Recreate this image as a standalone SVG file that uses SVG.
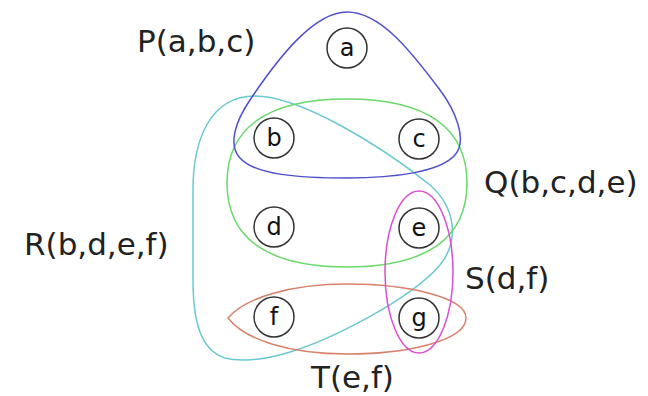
<svg xmlns="http://www.w3.org/2000/svg" width="648" height="396" viewBox="0 0 648 396">
<style>
.edge{fill:none;stroke-width:1.5}
.node circle{fill:none;stroke:#333;stroke-width:1.5}
.node text{font-family:"DejaVu Sans",sans-serif;font-size:24px;fill:#111;text-anchor:middle}
.lbl{font-family:"DejaVu Sans",sans-serif;font-size:31px;fill:#222}
</style>
<rect width="648" height="396" fill="#fff"/>
<g id="connectors">
<path id="R" class="edge" stroke="#6cc8d0" d="M255,96 C300,96 380,145 430,185 C455,207 460,240 440,265 C410,300 330,340 290,352 C265,360 240,362 225,358 C200,350 193,320 193,280 L193,190 C193,140 210,96 255,96 Z"/>
<path id="Q" class="edge" stroke="#6ad86a" d="M347,99 C427,99 467,128 467,183 C467,238 427,267 347,267 C267,267 227,238 227,183 C227,128 267,99 347,99 Z"/>
<path id="P" class="edge" stroke="#5050cc" d="M347,12 C315,12 280,55 250,100 C235,122 228,145 240,158 C255,175 300,178 347,178 C395,178 440,172 455,155 C468,140 455,110 440,90 C410,50 380,12 347,12 Z"/>
<path id="T" class="edge" stroke="#d8806a" d="M228,318 C245,298 290,284 347,284 C410,284 466,298 466,318 C466,340 410,354 347,354 C290,354 245,340 228,318 Z"/>
<ellipse id="S" class="edge" stroke="#d850d0" cx="419" cy="272" rx="34" ry="81"/>
</g>
<g id="labels">
<text class="lbl" x="137" y="52">P(a,b,c)</text>
<text class="lbl" x="484" y="193">Q(b,c,d,e)</text>
<text class="lbl" x="24" y="255">R(b,d,e,f)</text>
<text class="lbl" x="465" y="289">S(d,f)</text>
<text class="lbl" x="311" y="388">T(e,f)</text>
</g>
<g id="node-a" class="node"><circle cx="347" cy="48" r="20"/><text x="347" y="56">a</text></g>
<g id="node-b" class="node"><circle cx="274" cy="138" r="20"/><text x="274" y="146">b</text></g>
<g id="node-c" class="node"><circle cx="419" cy="139" r="20"/><text x="419" y="147">c</text></g>
<g id="node-d" class="node"><circle cx="274" cy="227" r="20"/><text x="274" y="235">d</text></g>
<g id="node-e" class="node"><circle cx="419" cy="228" r="20"/><text x="419" y="236">e</text></g>
<g id="node-f" class="node"><circle cx="274" cy="317" r="20"/><text x="274" y="325">f</text></g>
<g id="node-g" class="node"><circle cx="419" cy="318" r="20"/><text x="419" y="326">g</text></g>
</svg>
